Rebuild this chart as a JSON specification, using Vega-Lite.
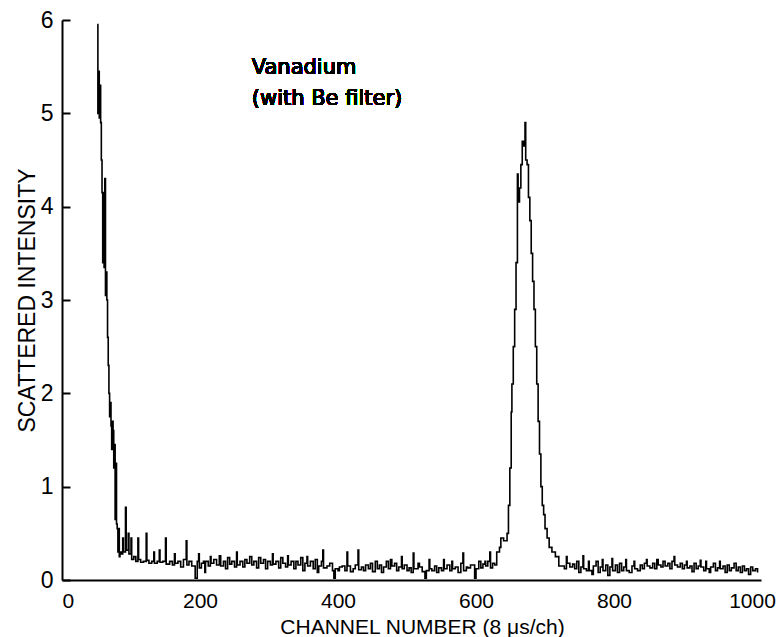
{
  "$schema": "https://vega.github.io/schema/vega-lite/v6.json",
  "width": 699,
  "height": 560,
  "autosize": "none",
  "padding": {"left": 62, "top": 20, "right": 17, "bottom": 57},
  "background": "white",
  "config": {"view": {"stroke": null}, "font": "Liberation Sans"},
  "data": {"values": [
    {"c":51,"v":5.95},{"c":52,"v":5.0},{"c":53,"v":5.45},{"c":54,"v":4.95},{"c":55,"v":5.3},{"c":56,"v":4.9},{"c":57,"v":4.5},{"c":58,"v":4.15},{"c":59,"v":3.4},{"c":60,"v":4.15},{"c":61,"v":3.35},{"c":62,"v":4.3},{"c":63,"v":3.05},{"c":64,"v":3.3},{"c":65,"v":3.0},{"c":66,"v":2.6},{"c":67,"v":2.3},{"c":68,"v":2.0},{"c":69,"v":1.75},{"c":70,"v":1.9},{"c":71,"v":1.65},{"c":72,"v":1.4},{"c":73,"v":1.7},{"c":74,"v":1.6},{"c":75,"v":1.2},{"c":76,"v":1.45},{"c":77,"v":0.65},{"c":78,"v":1.25},{"c":79,"v":0.6},{"c":80,"v":0.55},{"c":81,"v":0.3},{"c":82,"v":0.55},{"c":83,"v":0.25},{"c":84,"v":0.3},
    {"c":86,"v":0.28},{"c":88,"v":0.45},{"c":89,"v":0.3},{"c":92,"v":0.78},{"c":93,"v":0.32},{"c":96,"v":0.5},{"c":97,"v":0.28},{"c":100,"v":0.45},{"c":101,"v":0.22},{"c":104,"v":0.25},{"c":107,"v":0.2},{"c":110,"v":0.45},{"c":111,"v":0.22},{"c":114,"v":0.19},{"c":118,"v":0.2},{"c":122,"v":0.5},{"c":123,"v":0.21},{"c":126,"v":0.18},{"c":130,"v":0.2},{"c":133,"v":0.3},{"c":134,"v":0.18},{"c":138,"v":0.2},{"c":141,"v":0.32},{"c":142,"v":0.19},{"c":146,"v":0.2},{"c":150,"v":0.45},{"c":151,"v":0.17},{"c":156,"v":0.2},{"c":160,"v":0.16},{"c":163,"v":0.28},{"c":164,"v":0.18},{"c":168,"v":0.2},{"c":172,"v":0.14},{"c":176,"v":0.22},{"c":180,"v":0.42},{"c":181,"v":0.16},{"c":184,"v":0.2},{"c":188,"v":0.15},{"c":193,"v":0.02},{"c":196,"v":0.2},{"c":198,"v":0.28},{"c":199,"v":0.13},
    {"c":202,"v":0.18},{"c":205,"v":0.2},{"c":207,"v":0.08},{"c":208,"v":0.2},{"c":212,"v":0.15},{"c":215,"v":0.25},{"c":216,"v":0.18},{"c":220,"v":0.22},{"c":224,"v":0.16},{"c":228,"v":0.26},{"c":230,"v":0.15},{"c":234,"v":0.2},{"c":237,"v":0.12},{"c":240,"v":0.24},{"c":243,"v":0.17},{"c":246,"v":0.2},{"c":250,"v":0.14},{"c":253,"v":0.3},{"c":254,"v":0.16},{"c":258,"v":0.2},{"c":262,"v":0.14},{"c":265,"v":0.22},{"c":268,"v":0.18},{"c":272,"v":0.25},{"c":275,"v":0.16},{"c":278,"v":0.2},{"c":282,"v":0.13},{"c":285,"v":0.24},{"c":288,"v":0.18},{"c":292,"v":0.22},{"c":295,"v":0.12},{"c":298,"v":0.2},{"c":302,"v":0.16},{"c":305,"v":0.28},{"c":306,"v":0.17},{"c":310,"v":0.2},{"c":314,"v":0.13},{"c":317,"v":0.24},{"c":320,"v":0.18},{"c":324,"v":0.14},{"c":327,"v":0.26},{"c":328,"v":0.16},{"c":332,"v":0.2},{"c":336,"v":0.12},{"c":339,"v":0.2},{"c":342,"v":0.16},{"c":346,"v":0.24},{"c":349,"v":0.1},{"c":352,"v":0.18},{"c":355,"v":0.25},{"c":356,"v":0.15},{"c":360,"v":0.2},{"c":364,"v":0.12},{"c":367,"v":0.22},{"c":370,"v":0.08},{"c":372,"v":0.15},{"c":376,"v":0.2},{"c":378,"v":0.32},{"c":379,"v":0.13},{"c":384,"v":0.15},{"c":388,"v":0.18},{"c":392,"v":0.1},{"c":394,"v":0.02},{"c":396,"v":0.12},{"c":400,"v":0.1},{"c":402,"v":0.14},{"c":406,"v":0.15},{"c":410,"v":0.1},{"c":413,"v":0.3},{"c":414,"v":0.15},{"c":418,"v":0.09},{"c":422,"v":0.12},{"c":425,"v":0.16},{"c":429,"v":0.32},{"c":430,"v":0.11},{"c":434,"v":0.14},{"c":437,"v":0.1},{"c":440,"v":0.16},{"c":444,"v":0.12},{"c":447,"v":0.18},{"c":450,"v":0.09},{"c":454,"v":0.2},{"c":457,"v":0.12},{"c":460,"v":0.16},{"c":463,"v":0.08},{"c":466,"v":0.14},{"c":470,"v":0.2},{"c":473,"v":0.12},{"c":476,"v":0.22},{"c":478,"v":0.15},{"c":482,"v":0.18},{"c":485,"v":0.1},{"c":488,"v":0.14},{"c":492,"v":0.25},{"c":493,"v":0.12},{"c":496,"v":0.16},{"c":500,"v":0.1},{"c":503,"v":0.13},{"c":506,"v":0.08},{"c":509,"v":0.29},{"c":510,"v":0.12},{"c":513,"v":0.12},{"c":516,"v":0.18},{"c":518,"v":0.14},{"c":522,"v":0.09},{"c":526,"v":0.02},{"c":528,"v":0.1},{"c":532,"v":0.22},{"c":533,"v":0.12},{"c":536,"v":0.1},{"c":540,"v":0.15},{"c":543,"v":0.08},{"c":546,"v":0.13},{"c":550,"v":0.1},{"c":553,"v":0.22},{"c":554,"v":0.12},{"c":558,"v":0.16},{"c":562,"v":0.1},{"c":565,"v":0.2},{"c":566,"v":0.12},{"c":570,"v":0.14},{"c":574,"v":0.08},{"c":578,"v":0.18},{"c":581,"v":0.29},{"c":582,"v":0.1},{"c":586,"v":0.14},{"c":588,"v":0.13},{"c":592,"v":0.16},{"c":598,"v":0.02},{"c":600,"v":0.12},{"c":604,"v":0.2},{"c":607,"v":0.13},{"c":610,"v":0.17},{"c":613,"v":0.2},{"c":614,"v":0.15},{"c":617,"v":0.2},{"c":620,"v":0.3},{"c":621,"v":0.13},{"c":624,"v":0.18},{"c":627,"v":0.16},{"c":630,"v":0.3},{"c":634,"v":0.35},{"c":636,"v":0.45},{"c":640,"v":0.42},
    {"c":645,"v":0.5},{"c":647,"v":0.8},{"c":649,"v":1.2},{"c":651,"v":1.8},{"c":652,"v":2.1},{"c":654,"v":2.5},{"c":656,"v":2.9},{"c":658,"v":3.4},{"c":660,"v":4.35},{"c":661,"v":4.05},{"c":663,"v":4.2},{"c":665,"v":4.45},{"c":667,"v":4.7},{"c":669,"v":4.65},{"c":671,"v":4.9},{"c":672,"v":4.5},{"c":674,"v":4.45},{"c":676,"v":4.1},{"c":678,"v":3.85},{"c":680,"v":3.5},{"c":682,"v":3.2},{"c":684,"v":2.9},{"c":686,"v":2.5},{"c":688,"v":2.1},{"c":690,"v":1.7},{"c":692,"v":1.35},{"c":694,"v":1.0},{"c":696,"v":0.8},{"c":698,"v":0.7},{"c":700,"v":0.55},{"c":703,"v":0.45},{"c":706,"v":0.35},{"c":710,"v":0.3},{"c":715,"v":0.25},{"c":720,"v":0.15},
    {"c":724,"v":0.15},{"c":728,"v":0.12},{"c":731,"v":0.25},{"c":732,"v":0.18},{"c":736,"v":0.14},{"c":740,"v":0.17},{"c":743,"v":0.12},{"c":746,"v":0.2},{"c":749,"v":0.08},{"c":752,"v":0.14},{"c":755,"v":0.26},{"c":756,"v":0.12},{"c":760,"v":0.1},{"c":763,"v":0.2},{"c":764,"v":0.1},{"c":768,"v":0.06},{"c":770,"v":0.15},{"c":774,"v":0.2},{"c":777,"v":0.08},{"c":780,"v":0.14},{"c":783,"v":0.22},{"c":784,"v":0.1},{"c":788,"v":0.16},{"c":791,"v":0.05},{"c":794,"v":0.14},{"c":797,"v":0.23},{"c":798,"v":0.1},{"c":802,"v":0.16},{"c":805,"v":0.08},{"c":808,"v":0.18},{"c":811,"v":0.1},{"c":814,"v":0.14},{"c":817,"v":0.22},{"c":818,"v":0.1},{"c":822,"v":0.08},{"c":826,"v":0.15},{"c":829,"v":0.2},{"c":830,"v":0.12},{"c":834,"v":0.1},{"c":838,"v":0.16},{"c":841,"v":0.12},{"c":844,"v":0.18},{"c":847,"v":0.22},{"c":848,"v":0.15},{"c":852,"v":0.13},{"c":856,"v":0.18},{"c":859,"v":0.12},{"c":862,"v":0.22},{"c":864,"v":0.16},{"c":868,"v":0.14},{"c":871,"v":0.2},{"c":874,"v":0.15},{"c":878,"v":0.18},{"c":881,"v":0.12},{"c":884,"v":0.2},{"c":887,"v":0.25},{"c":888,"v":0.16},{"c":892,"v":0.14},{"c":896,"v":0.18},{"c":899,"v":0.12},{"c":902,"v":0.16},{"c":905,"v":0.2},{"c":906,"v":0.13},{"c":910,"v":0.15},{"c":913,"v":0.09},{"c":916,"v":0.18},{"c":919,"v":0.12},{"c":922,"v":0.15},{"c":925,"v":0.21},{"c":926,"v":0.14},{"c":930,"v":0.1},{"c":933,"v":0.2},{"c":934,"v":0.12},{"c":938,"v":0.08},{"c":940,"v":0.14},{"c":944,"v":0.18},{"c":947,"v":0.1},{"c":950,"v":0.13},{"c":953,"v":0.2},{"c":954,"v":0.12},{"c":958,"v":0.15},{"c":961,"v":0.08},{"c":964,"v":0.16},{"c":967,"v":0.1},{"c":970,"v":0.13},{"c":974,"v":0.18},{"c":977,"v":0.1},{"c":980,"v":0.14},{"c":983,"v":0.08},{"c":986,"v":0.15},{"c":989,"v":0.1},{"c":992,"v":0.12},{"c":995,"v":0.06},{"c":998,"v":0.14},{"c":1001,"v":0.1},{"c":1005,"v":0.12},{"c":1008,"v":0.08}
  ]},
  "layer": [
    {
      "mark": {"type": "line", "interpolate": "step-after", "color": "black", "strokeWidth": 1.6},
      "encoding": {
        "x": {"field": "c", "type": "quantitative",
          "scale": {"domain": [0, 1013], "nice": false, "zero": false},
          "axis": {"values": [0, 200, 400, 600, 800, 1000], "format": "d", "title": "CHANNEL NUMBER (8 μs/ch)", "grid": false,
            "domainColor": "black", "domainWidth": 2, "ticks": false, "labelPadding": 10,
            "labelFontSize": 21, "labelColor": "black", "labelFont": "Liberation Sans",
            "titleFontSize": 21, "titleFontWeight": "normal", "titleColor": "black", "titleFont": "Liberation Sans",
            "titleX": 360, "titleY": 53, "titleBaseline": "alphabetic", "titleAnchor": "middle"}},
        "y": {"field": "v", "type": "quantitative",
          "scale": {"domain": [0, 6], "nice": false},
          "axis": {"values": [0, 1, 2, 3, 4, 5, 6], "format": "d", "title": "SCATTERED INTENSITY", "grid": false,
            "domainColor": "black", "domainWidth": 2, "tickColor": "black", "tickWidth": 2, "tickSize": -8, "labelPadding": 17,
            "labelFontSize": 23, "labelColor": "black", "labelFont": "Liberation Sans",
            "titleFontSize": 23, "titleFontWeight": "normal", "titleColor": "black", "titleFont": "Liberation Sans", "titlePadding": 1}}
      }
    },
    {
      "mark": {"type": "text", "align": "left", "baseline": "alphabetic", "fontSize": 21, "font": "DejaVu Sans", "color": "black", "lineHeight": 31},
      "encoding": {
        "x": {"datum": 275},
        "y": {"datum": 5.42},
        "text": {"value": ["Vanadium", "(with Be filter)"]}
      }
    }
  ]
}
